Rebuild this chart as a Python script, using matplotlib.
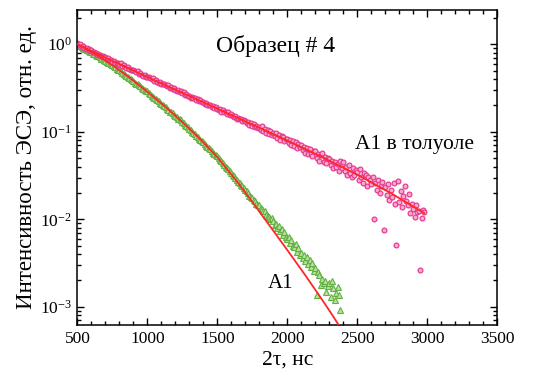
import matplotlib
matplotlib.use("Agg")
import matplotlib.pyplot as plt
import numpy as np
from matplotlib.ticker import LogLocator, MultipleLocator, LogFormatterSciNotation

# ---------------- data ----------------
# pink circles: "A1 в толуоле", t = 500 ... 2980 ns, step 10; values are lg(I)
pink_t = list(range(500, 2990, 10))
pink_lg = [
    0.01, -0.01, 0.00, -0.03, -0.02, -0.04, -0.06, -0.04, -0.06, -0.08,
    -0.07, -0.09, -0.09, -0.10, -0.12, -0.11, -0.12, -0.14, -0.13, -0.15,
    -0.15, -0.17, -0.16, -0.18, -0.18, -0.20, -0.19, -0.21, -0.22, -0.21,
    -0.23, -0.22, -0.25, -0.24, -0.26, -0.27, -0.26, -0.28, -0.29, -0.29,
    -0.30, -0.31, -0.32, -0.31, -0.34, -0.33, -0.35, -0.36, -0.35, -0.37,
    -0.38, -0.37, -0.39, -0.40, -0.39, -0.42, -0.41, -0.43, -0.44, -0.43,
    -0.45, -0.46, -0.45, -0.47, -0.48, -0.47, -0.50, -0.49, -0.51, -0.50,
    -0.52, -0.53, -0.52, -0.55, -0.54, -0.56, -0.55, -0.58, -0.57, -0.59,
    -0.59, -0.61, -0.60, -0.62, -0.61, -0.64, -0.63, -0.65, -0.64, -0.66,
    -0.66, -0.68, -0.67, -0.69, -0.70, -0.69, -0.72, -0.71, -0.73, -0.72,
    -0.74, -0.75, -0.74, -0.77, -0.75, -0.78, -0.77, -0.80, -0.78, -0.81,
    -0.80, -0.82, -0.83, -0.82, -0.85, -0.84, -0.86, -0.85, -0.88, -0.87,
    -0.88, -0.90, -0.89, -0.92, -0.90, -0.93, -0.91, -0.95, -0.93, -0.96,
    -0.95, -0.98, -0.94, -0.99, -0.97, -1.01, -0.98, -1.03, -0.99, -1.04,
    -1.01, -1.05, -1.02, -1.07, -1.04, -1.09, -1.05, -1.06, -1.11, -1.08,
    -1.08, -1.13, -1.09, -1.15, -1.11, -1.16, -1.12, -1.19, -1.14, -1.17,
    -1.15, -1.21, -1.17, -1.24, -1.19, -1.26, -1.20, -1.25, -1.28, -1.22,
    -1.22, -1.30, -1.25, -1.33, -1.27, -1.24, -1.35, -1.29, -1.36, -1.30,
    -1.31, -1.38, -1.33, -1.42, -1.35, -1.40, -1.37, -1.45, -1.34, -1.41,
    -1.35, -1.45, -1.40, -1.50, -1.38, -1.47, -1.52, -1.42, -1.49, -1.44,
    -1.46, -1.55, -1.43, -1.52, -1.58, -1.47, -1.49, -1.62, -1.52, -1.55,
    -1.60, -1.52, -2.00, -1.58, -1.66, -1.55, -1.70, -1.62, -1.57, -2.12,
    -1.63, -1.72, -1.60, -1.78, -1.66, -1.74, -1.58, -1.82, -2.29, -1.56,
    -1.80, -1.68, -1.86, -1.73, -1.62, -1.79, -1.84, -1.71, -1.93, -1.82,
    -1.88, -1.97, -1.84, -1.92, -1.90, -2.58, -1.98, -1.89, -1.92,
]

# green triangles: "A1", t = 500 ... 2380 ns, step 10; values are lg(I)
green_t = list(range(500, 2390, 10))
green_lg = [
    0.00, -0.01, -0.02, -0.03, -0.04, -0.05, -0.06, -0.07, -0.08, -0.09,
    -0.09, -0.11, -0.11, -0.12, -0.14, -0.14, -0.15, -0.17, -0.17, -0.18,
    -0.19, -0.20, -0.21, -0.22, -0.23, -0.24, -0.25, -0.26, -0.28, -0.29,
    -0.30, -0.31, -0.33, -0.34, -0.35, -0.36, -0.37, -0.39, -0.40, -0.41,
    -0.42, -0.44, -0.45, -0.46, -0.47, -0.48, -0.50, -0.51, -0.52, -0.53,
    -0.54, -0.56, -0.57, -0.59, -0.60, -0.61, -0.63, -0.64, -0.65, -0.67,
    -0.68, -0.70, -0.71, -0.72, -0.74, -0.75, -0.77, -0.78, -0.79, -0.81,
    -0.82, -0.83, -0.85, -0.86, -0.87, -0.89, -0.90, -0.92, -0.94, -0.95,
    -0.97, -0.98, -1.00, -1.02, -1.03, -1.05, -1.06, -1.08, -1.10, -1.11,
    -1.12, -1.14, -1.16, -1.17, -1.19, -1.20, -1.22, -1.24, -1.25, -1.27,
    -1.28, -1.30, -1.32, -1.34, -1.36, -1.38, -1.40, -1.42, -1.43, -1.45,
    -1.47, -1.49, -1.51, -1.53, -1.55, -1.57, -1.59, -1.61, -1.62, -1.64,
    -1.66, -1.68, -1.70, -1.73, -1.74, -1.76, -1.78, -1.79, -1.82, -1.84,
    -1.84, -1.87, -1.88, -1.91, -1.90, -1.95, -1.96, -1.97, -2.00, -1.99,
    -2.02, -2.06, -2.05, -2.10, -2.08, -2.13, -2.11, -2.18, -2.15, -2.20,
    -2.22, -2.20, -2.27, -2.24, -2.30, -2.32, -2.28, -2.37, -2.33, -2.41,
    -2.38, -2.44, -2.41, -2.48, -2.43, -2.51, -2.47, -2.54, -2.50, -2.59,
    -2.56, -2.87, -2.60, -2.64, -2.75, -2.68, -2.73, -2.70, -2.83, -2.76,
    -2.73, -2.89, -2.71, -2.78, -2.92, -2.84, -2.77, -2.86, -3.04,
]

# fitted curves (red), lg(I) at knots
pink_fit_t = [500, 750, 1000, 1250, 1500, 1750, 2000, 2250, 2500, 2750, 2980]
pink_fit_lg = [0.0, -0.19, -0.375, -0.555, -0.735, -0.917, -1.10, -1.29, -1.49, -1.71, -1.93]
green_fit_t = [500, 625, 750, 875, 1000, 1125, 1250, 1375, 1500, 1625, 1750, 1875, 2000, 2125, 2250, 2325, 2400]
green_fit_lg = [0.0, -0.11, -0.24, -0.385, -0.545, -0.71, -0.89, -1.08, -1.29, -1.535, -1.80, -2.075, -2.35, -2.63, -2.92, -3.10, -3.29]

x_ticks = [500, 1000, 1500, 2000, 2500, 3000, 3500]
title_text = "Образец # 4"
label_pink = "A1 в толуоле"
label_green = "A1"
x_label = "2τ, нс"
y_label = "Интенсивность ЭСЭ, отн. ед."

# ---------------- style ----------------
plt.rcParams['font.family'] = ['Liberation Serif', 'DejaVu Serif']
plt.rcParams['mathtext.fontset'] = 'custom'
plt.rcParams['mathtext.rm'] = 'Liberation Serif'
plt.rcParams['mathtext.it'] = 'Liberation Serif:italic'
plt.rcParams['axes.unicode_minus'] = False

fig = plt.figure(figsize=(5.45, 3.74), dpi=100)
ax = fig.add_axes([0.142, 0.131, 0.770, 0.842])

pink_I = [10 ** v for v in pink_lg]
green_I = [10 ** v for v in green_lg]

ax.plot(green_t, green_I, linestyle='none', marker='^', markersize=3.9,
        markerfacecolor='#b9e2a0', markeredgecolor='#62b043', markeredgewidth=0.8, zorder=2)
ax.plot(pink_t, pink_I, linestyle='none', marker='o', markersize=3.5,
        markerfacecolor='#f6a9cf', markeredgecolor='#e6318a', markeredgewidth=0.8, zorder=2)

ax.plot(pink_fit_t, [10 ** v for v in pink_fit_lg], color='#ff2626', lw=1.3, zorder=3)
ax.plot(green_fit_t, [10 ** v for v in green_fit_lg], color='#ff2626', lw=1.3, zorder=3)

ax.set_yscale('log')
ax.set_xlim(500, 3500)
ax.set_ylim(6.2e-4, 2.45)
ax.set_xticks(x_ticks)
ax.xaxis.set_minor_locator(MultipleLocator(100))
ax.yaxis.set_major_locator(LogLocator(base=10, numticks=10))
ax.yaxis.set_minor_locator(LogLocator(base=10, subs=np.arange(2, 10), numticks=10))
ax.yaxis.set_major_formatter(LogFormatterSciNotation())

ax.tick_params(which='both', direction='in', top=True, right=True, width=1.0)
ax.tick_params(which='major', length=5, labelsize=12.5, pad=4)
ax.tick_params(which='minor', length=3)
for s in ax.spines.values():
    s.set_linewidth(1.1)

ax.set_xlabel(x_label, fontsize=15.5, labelpad=3)
ax.set_ylabel(y_label, fontsize=16.5, labelpad=2)

ax.text(0.473, 0.885, title_text, transform=ax.transAxes, fontsize=17, ha='center', va='center')
ax.text(2484, 10 ** -1.15, label_pink, fontsize=15.5, ha='left', va='center')
ax.text(1862, 10 ** -2.73, label_green, fontsize=15, ha='left', va='center')

fig.savefig('out.png', dpi=100)
